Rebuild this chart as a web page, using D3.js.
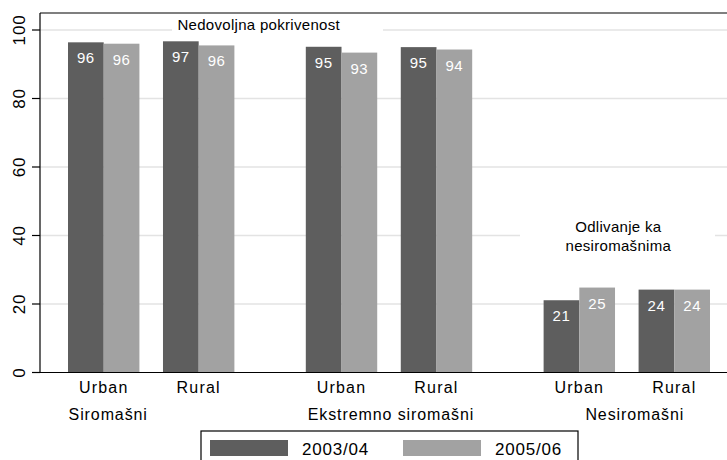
<!DOCTYPE html>
<html>
<head>
<meta charset="utf-8">
<style>
  body { margin: 0; background: #fff; }
  svg { display: block; font-family: "Liberation Sans", Arial, sans-serif; }
  .grid line { stroke: #e3e3e3; stroke-width: 1.5; }
</style>
</head>
<body>
<div id="chart"></div>
<script src="https://cdn.jsdelivr.net/npm/d3@7/dist/d3.min.js"></script>
<script>
const groups = ["Siromašni", "Ekstremno siromašni", "Nesiromašni"];
const areas = ["Urban", "Rural"];
const years = ["2003/04", "2005/06"];
// values per group, per area: [2003/04, 2005/06]
const siromasni = [[96.4, 96.0], [96.7, 95.5]];
const ekstremno = [[95.1, 93.4], [95.0, 94.3]];
const nesiromasni = [[21.1, 24.8], [24.2, 24.2]];
const yTicks = [0, 20, 40, 60, 80, 100];
const colors = ["#5e5e5e", "#a2a2a2"];

const W = 727, H = 460;
const plot = { left: 40, right: 727, top: 13, bottom: 372.5 };

const svg = d3.select('#chart').append('svg')
  .attr('width', W).attr('height', H);

const y = d3.scaleLinear().domain([0, 100]).range([plot.bottom, 30]);

// horizontal layout in bar-width units: inner gap between areas, outer gap between groups
const innerGap = 0.66, outerGap = 2, leftPad = 0.78;
const groupData = [siromasni, ekstremno, nesiromasni];
const bars = [];
let u = leftPad;
const areaCenters = [];
const groupCenters = [];
groupData.forEach((g, gi) => {
  const gStart = u;
  g.forEach((pair, ai) => {
    areaCenters.push({ label: areas[ai], pos: u + 1 });
    pair.forEach((v, yi) => {
      bars.push({ g: gi, a: ai, yr: yi, v: v, pos: u + yi });
    });
    u += 2;
    if (ai < g.length - 1) u += innerGap;
  });
  groupCenters.push({ label: groups[gi], pos: (gStart + u) / 2 });
  if (gi < groupData.length - 1) u += outerGap;
});
const x = d3.scaleLinear().domain([leftPad, u]).range([68, 710]);
const bw = x(1) - x(0);

// gridlines
svg.append('g').attr('class', 'grid')
  .selectAll('line').data(yTicks.filter(d => d > 0)).enter().append('line')
  .attr('x1', plot.left).attr('x2', plot.right)
  .attr('y1', d => y(d)).attr('y2', d => y(d));

// top frame line
svg.append('line')
  .attr('x1', plot.left).attr('x2', plot.right)
  .attr('y1', plot.top).attr('y2', plot.top)
  .attr('stroke', '#000').attr('stroke-width', 1.2);

// annotation boxes (hide gridlines behind text)
const notes = [
  { lines: ["Nedovoljna pokrivenost"], xc: x(bars[3].pos) + 60, y0: 30, box: [172, 383, 20, 40] },
  { lines: ["Odlivanje ka", "nesiromašnima"], xc: x(bars[9].pos) + 39, y0: 232, box: [520, 715, 218, 256] }
];
notes.forEach(n => {
  svg.append('rect')
    .attr('x', n.box[0]).attr('width', n.box[1] - n.box[0])
    .attr('y', n.box[2]).attr('height', n.box[3] - n.box[2])
    .attr('fill', '#fff');
});

// bars
svg.append('g').selectAll('rect').data(bars).enter().append('rect')
  .attr('x', d => x(d.pos))
  .attr('width', bw)
  .attr('y', d => y(d.v))
  .attr('height', d => y(0) - y(d.v))
  .attr('fill', d => colors[d.yr]);

// value labels
svg.append('g').selectAll('text').data(bars).enter().append('text')
  .attr('x', d => x(d.pos) + bw / 2)
  .attr('y', d => y(d.v) + 21)
  .attr('text-anchor', 'middle')
  .attr('fill', '#fff')
  .style('font-size', '15px')
  .style('letter-spacing', '0.5px')
  .text(d => Math.round(d.v));

// annotation texts
notes.forEach(n => {
  n.lines.forEach((t, i) => {
    svg.append('text')
      .attr('x', n.xc).attr('y', n.y0 + i * 18.5)
      .attr('text-anchor', 'middle')
      .style('font-size', '15px')
      .style('letter-spacing', '0.3px')
      .text(t);
  });
});

// y axis
const yAxis = svg.append('g');
yAxis.append('line')
  .attr('x1', plot.left).attr('x2', plot.left)
  .attr('y1', plot.top).attr('y2', plot.bottom)
  .attr('stroke', '#000').attr('stroke-width', 1.2);
yAxis.selectAll('.tick').data(yTicks).enter().append('line')
  .attr('x1', 32).attr('x2', plot.left)
  .attr('y1', d => y(d)).attr('y2', d => y(d))
  .attr('stroke', '#000').attr('stroke-width', 1.2);
yAxis.selectAll('text').data(yTicks).enter().append('text')
  .attr('transform', d => `translate(25,${y(d)}) rotate(-90)`)
  .attr('text-anchor', 'middle')
  .style('font-size', '17px')
  .style('letter-spacing', '0.8px')
  .text(d => d);

// x axis baseline
svg.append('line')
  .attr('x1', plot.left).attr('x2', plot.right)
  .attr('y1', plot.bottom).attr('y2', plot.bottom)
  .attr('stroke', '#000').attr('stroke-width', 1.2);

// area labels
svg.append('g').selectAll('text').data(areaCenters).enter().append('text')
  .attr('x', d => x(d.pos))
  .attr('y', 393)
  .attr('text-anchor', 'middle')
  .style('font-size', '16px')
  .style('letter-spacing', '1.2px')
  .text(d => d.label);

// group labels
const groupShift = [-43, 2, 8];
svg.append('g').selectAll('text').data(groupCenters).enter().append('text')
  .attr('x', (d, i) => x(d.pos) + groupShift[i])
  .attr('y', 420)
  .attr('text-anchor', 'middle')
  .style('font-size', '16px')
  .style('letter-spacing', '0.9px')
  .text(d => d.label);

// legend
const lg = svg.append('g');
lg.append('rect')
  .attr('x', 201).attr('y', 431).attr('width', 377).attr('height', 40)
  .attr('fill', '#fff').attr('stroke', '#000').attr('stroke-width', 1.2);
const lx = [210, 403];
years.forEach((yr, i) => {
  lg.append('rect')
    .attr('x', lx[i]).attr('y', 440).attr('width', 78).attr('height', 16)
    .attr('fill', colors[i]);
  lg.append('text')
    .attr('x', lx[i] + 92).attr('y', 455)
    .style('font-size', '17px')
    .style('letter-spacing', '0.8px')
    .text(yr);
});
</script>
</body>
</html>
